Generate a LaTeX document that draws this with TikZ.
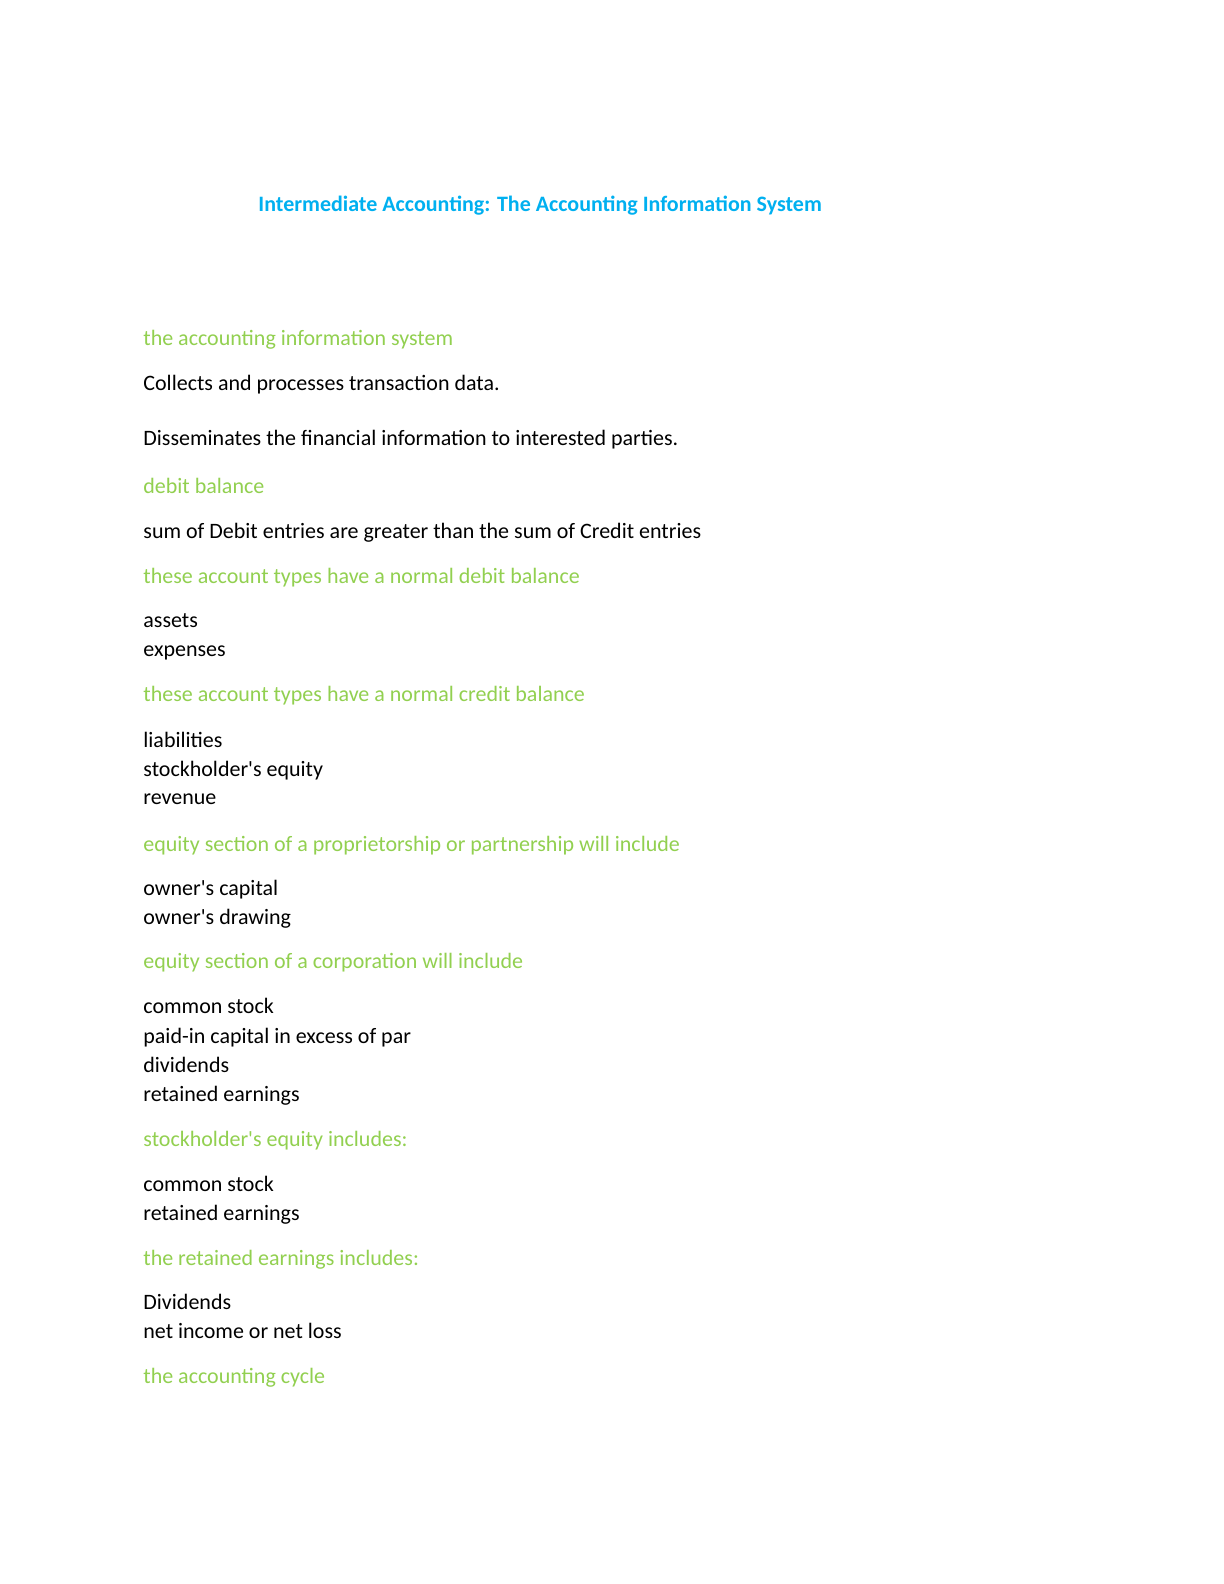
\documentclass[tikz,border=0pt]{standalone}
\usepackage{fontspec}
\setmainfont{Carlito}[Ligatures=TeXOff]
\definecolor{titleblue}{HTML}{00B0F0}
\definecolor{headgreen}{HTML}{92D050}
\begin{document}
\begin{tikzpicture}[x=1pt,y=1pt,
  line/.style={anchor=base west,inner sep=0pt,font=\fontsize{11}{13}\selectfont,text=black},
  head/.style={line,text=headgreen},
  ttl/.style={anchor=base west,inner sep=0pt,font=\fontsize{11}{13}\selectfont\bfseries,text=titleblue}]
\useasboundingbox[fill=white] (0,0) rectangle (612,-792);
\newcommand\Y[1]{-(#1)/2}
\node[ttl] (title) at (129,{\Y{211.5}}) {Intermediate Accounting: The Accounting Information System};
\node[head] (h1) at (71.5,{\Y{345}}) {the accounting information system};
\node[line] (t1) at (71.5,{\Y{390}}) {Collects and processes transaction data.};
\node[line] (t2) at (71.5,{\Y{445}}) {Disseminates the financial information to interested parties.};
\node[head] (h2) at (71.5,{\Y{493}}) {debit balance};
\node[line] (t3) at (71.5,{\Y{538}}) {sum of Debit entries are greater than the sum of Credit entries};
\node[head] (h3) at (71.5,{\Y{583}}) {these account types have a normal debit balance};
\node[line] (t4) at (71.5,{\Y{627}}) {assets};
\node[line] (t5) at (71.5,{\Y{656}}) {expenses};
\node[head] (h4) at (71.5,{\Y{701}}) {these account types have a normal credit balance};
\node[line] (t6) at (71.5,{\Y{747}}) {liabilities};
\node[line] (t7) at (71.5,{\Y{776}}) {stockholder's equity};
\node[line] (t8) at (71.5,{\Y{804}}) {revenue};
\node[head] (h5) at (71.5,{\Y{851}}) {equity section of a proprietorship or partnership will include};
\node[line] (t9) at (71.5,{\Y{895}}) {owner's capital};
\node[line] (t10) at (71.5,{\Y{924}}) {owner's drawing};
\node[head] (h6) at (71.5,{\Y{968}}) {equity section of a corporation will include};
\node[line] (t11) at (71.5,{\Y{1013}}) {common stock};
\node[line] (t12) at (71.5,{\Y{1043}}) {paid-in capital in excess of par};
\node[line] (t13) at (71.5,{\Y{1072}}) {dividends};
\node[line] (t14) at (71.5,{\Y{1101}}) {retained earnings};
\node[head] (h7) at (71.5,{\Y{1146}}) {stockholder's equity includes:};
\node[line] (t15) at (71.5,{\Y{1191}}) {common stock};
\node[line] (t16) at (71.5,{\Y{1220}}) {retained earnings};
\node[head] (h8) at (71.5,{\Y{1265}}) {the retained earnings includes:};
\node[line] (t17) at (71.5,{\Y{1309}}) {Dividends};
\node[line] (t18) at (71.5,{\Y{1338}}) {net income or net loss};
\node[head] (h9) at (71.5,{\Y{1383}}) {the accounting cycle};
\end{tikzpicture}
\end{document}
